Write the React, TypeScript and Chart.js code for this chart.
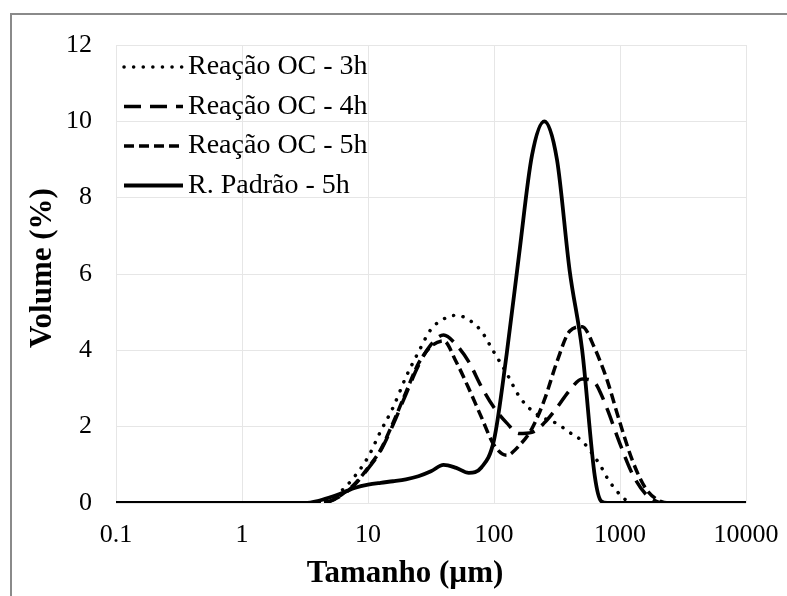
import React, { useEffect, useRef } from "react";
import { Chart, registerables } from "chart.js";

Chart.register(...registerables);

// Particle size (µm) – shared x values
const sizes = [0.1, 1, 3.16, 3.98, 5.01, 6.31, 7.94, 10, 12.6, 15.8, 20, 25.1, 31.6, 39.8, 50.1, 63.1, 79.4, 100, 126, 158, 200, 251, 316, 398, 501, 631, 708, 794, 1000, 1259, 1585, 1995, 2512, 10000];

// Volume (%) per series
const reacao3h = [0, 0, 0, 0, 0.1, 0.35, 0.72, 1.2, 1.88, 2.5, 3.3, 3.95, 4.55, 4.82, 4.92, 4.8, 4.5, 3.95, 3.4, 2.8, 2.42, 2.22, 2.08, 1.85, 1.62, 1.2, 0.95, 0.65, 0.22, 0, 0, 0, 0, 0];
const reacao4h = [0, 0, 0, 0, 0.05, 0.22, 0.5, 0.9, 1.37, 2.05, 2.85, 3.6, 4.15, 4.4, 4.15, 3.7, 3.05, 2.5, 2.1, 1.82, 1.85, 2.1, 2.5, 2.95, 3.25, 3.15, 2.85, 2.45, 1.55, 0.75, 0.25, 0.03, 0, 0];
const reacao5h = [0, 0, 0, 0, 0.05, 0.24, 0.52, 0.92, 1.4, 2.1, 2.9, 3.65, 4.1, 4.25, 3.7, 3.0, 2.25, 1.52, 1.25, 1.5, 1.95, 2.7, 3.7, 4.5, 4.62, 4.05, 3.65, 3.2, 2.1, 1.1, 0.4, 0.08, 0, 0];
const padrao5h = [0, 0, 0, 0.05, 0.15, 0.27, 0.4, 0.48, 0.53, 0.57, 0.62, 0.7, 0.83, 1.0, 0.92, 0.79, 0.93, 1.65, 3.9, 6.5, 9.1, 10.0, 9.0, 6.1, 4.0, 0.7, 0.05, 0, 0, 0, 0, 0, 0, 0];

const seriesLabels = ["Reação OC - 3h", "Reação OC - 4h", "Reação OC - 5h", "R. Padrão - 5h"];
const xTicks = [0.1, 1, 10, 100, 1000, 10000];
const xTickLabels = ["0.1", "1", "10", "100", "1000", "10000"];
const yMin = 0;
const yMax = 12;
const yStep = 2;
const xTitle = "Tamanho (µm)";
const yTitle = "Volume (%)";

const SERIF = "'Liberation Serif', 'Times New Roman', serif";

const legendPlugin = {
  id: "customLegend",
  afterDatasetsDraw(chart: any) {
    const ctx = chart.ctx;
    const { left, top } = chart.chartArea;
    chart.data.datasets.forEach((ds: any, i: number) => {
      const y = top + 22 + i * 39.5;
      ctx.save();
      ctx.strokeStyle = "#000";
      ctx.lineWidth = ds.borderWidth;
      ctx.setLineDash(ds.borderDash || []);
      ctx.lineCap = ds.borderCapStyle || "butt";
      ctx.beginPath();
      ctx.moveTo(left + 8, y);
      ctx.lineTo(left + 67, y);
      ctx.stroke();
      ctx.setLineDash([]);
      ctx.fillStyle = "#000";
      ctx.font = `28px ${SERIF}`;
      ctx.textBaseline = "middle";
      ctx.textAlign = "left";
      ctx.fillText(ds.label, left + 72, y);
      ctx.restore();
    });
  },
};

const titlePlugin = {
  id: "axisTitles",
  afterDraw(chart: any) {
    const ctx = chart.ctx;
    const { left, top, bottom } = chart.chartArea;
    ctx.save();
    ctx.fillStyle = "#000";
    ctx.font = `bold 31px ${SERIF}`;
    ctx.textAlign = "center";
    ctx.textBaseline = "middle";
    // x title
    ctx.fillText(xTitle, left + 289, bottom + 71);
    // y title
    ctx.translate(left - 73, (top + bottom) / 2 - 6);
    ctx.rotate(-Math.PI / 2);
    ctx.fillText(yTitle, 0, 0);
    ctx.restore();
  },
};

export default function App() {
  const canvasRef = useRef<HTMLCanvasElement | null>(null);

  useEffect(() => {
    if (!canvasRef.current) return;
    const mk = (vals: number[]) => sizes.map((x, i) => ({ x, y: vals[i] }));
    const chart = new Chart(canvasRef.current, {
      type: "line",
      data: {
        datasets: [
          {
            label: seriesLabels[0],
            data: mk(reacao3h),
            borderColor: "#000",
            borderWidth: 3.5,
            borderDash: [0.1, 9.5],
            borderCapStyle: "round",
            pointRadius: 0,
            cubicInterpolationMode: "monotone",
            fill: false,
          },
          {
            label: seriesLabels[1],
            data: mk(reacao4h),
            borderColor: "#000",
            borderWidth: 3.5,
            borderDash: [17, 9],
            pointRadius: 0,
            cubicInterpolationMode: "monotone",
            fill: false,
          },
          {
            label: seriesLabels[2],
            data: mk(reacao5h),
            borderColor: "#000",
            borderWidth: 3.5,
            borderDash: [10, 5],
            pointRadius: 0,
            cubicInterpolationMode: "monotone",
            fill: false,
          },
          {
            label: seriesLabels[3],
            data: mk(padrao5h),
            borderColor: "#000",
            borderWidth: 3.8,
            pointRadius: 0,
            cubicInterpolationMode: "monotone",
            fill: false,
          },
        ],
      },
      options: {
        responsive: false,
        animation: false,
        events: [],
        layout: { padding: { left: 0, top: 45, right: 41, bottom: 0 } },
        plugins: {
          legend: { display: false },
          tooltip: { enabled: false },
        },
        scales: {
          x: {
            type: "logarithmic",
            min: 0.1,
            max: 10000,
            afterBuildTicks: (scale: any) => {
              scale.ticks = xTicks.map((v) => ({ value: v }));
            },
            afterFit: (scale: any) => {
              scale.height = 93;
              scale.paddingLeft = 0;
              scale.paddingRight = 0;
            },
            ticks: {
              autoSkip: false,
              maxRotation: 0,
              padding: 17,
              color: "#000",
              font: { family: SERIF, size: 26 },
              callback: (v: any) => {
                const idx = xTicks.indexOf(Number(v));
                return idx >= 0 ? xTickLabels[idx] : "";
              },
            },
            grid: { color: "#e6e6e6", lineWidth: 1, drawTicks: false },
            border: { display: false },
            title: { display: false },
          },
          y: {
            type: "linear",
            min: yMin,
            max: yMax,
            afterFit: (scale: any) => {
              scale.width = 116;
              scale.paddingTop = 0;
              scale.paddingBottom = 0;
            },
            ticks: {
              stepSize: yStep,
              padding: 24,
              color: "#000",
              font: { family: SERIF, size: 26 },
            },
            grid: { color: "#e6e6e6", lineWidth: 1, drawTicks: false },
            border: { display: false },
            title: { display: false },
          },
        },
      },
      plugins: [legendPlugin, titlePlugin],
    } as any);
    return () => chart.destroy();
  }, []);

  return (
    <div style={{ position: "absolute", left: 0, top: 0, width: 787, height: 596, overflow: "hidden", background: "#fff" }}>
      <div
        style={{
          position: "absolute",
          left: 10,
          top: 13,
          width: 820,
          height: 620,
          border: "2px solid #8a8a8a",
          boxSizing: "border-box",
        }}
      />
      <canvas ref={canvasRef} width={787} height={596} style={{ position: "absolute", left: 0, top: 0 }} />
    </div>
  );
}
